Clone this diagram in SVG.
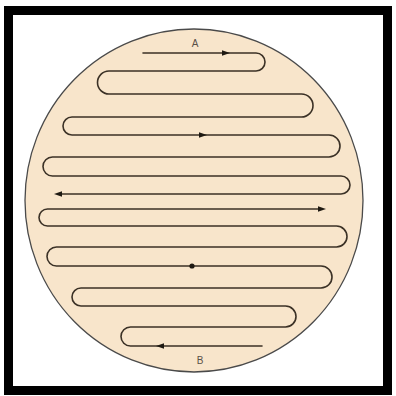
<svg xmlns="http://www.w3.org/2000/svg" width="396" height="396" viewBox="0 0 396 396">
  <style>
    .frame { fill: #ffffff; stroke: #000000; stroke-width: 9; }
    .disc { fill: #f8e5cb; stroke: #4a4a4a; stroke-width: 1.3; }
    .route { fill: none; stroke: #3b3126; stroke-width: 1.6; stroke-linejoin: round; stroke-linecap: round; }
    .head { fill: #1e1912; }
    .lbl { font-family: "Liberation Sans", Arial, sans-serif; font-size: 10px; fill: #5a5048; text-anchor: middle; }
  </style>
  <defs>
    <path id="ah" d="M4,0 L-4,-2.8 L-4,2.8 Z"/>
  </defs>
  <rect class="frame" x="8.5" y="10.5" width="379" height="380"/>
  <g id="disc">
    <ellipse class="disc" cx="194" cy="200.5" rx="169" ry="171.5"/>
  </g>
  <g id="connectors">
    <path id="route-A" class="route" d="M143,53 H256 A9,9 0 0 1 256,71 H109 A11.5,11.5 0 0 0 109,94 H301.5 A11.5,11.5 0 0 1 301.5,117 H72 A9,9 0 0 0 72,135 H329 A11,11 0 0 1 329,157 H52.5 A9.5,9.5 0 0 0 52.5,176 H341 A9,9 0 0 1 341,194 H58"/>
    <path id="route-B" class="route" d="M262,346 H130.5 A9.5,9.5 0 0 1 130.5,327 H285.5 A10.5,10.5 0 0 0 285.5,306 H81 A9,9 0 0 1 81,288 H321 A11,11 0 0 0 321,266 H56.5 A9.5,9.5 0 0 1 56.5,247 H336.5 A10.5,10.5 0 0 0 336.5,226 H47.5 A8.5,8.5 0 0 1 47.5,209 H322"/>
    <use href="#ah" class="head" transform="translate(226,53)"/>
    <use href="#ah" class="head" transform="translate(203,135)"/>
    <use href="#ah" class="head" transform="translate(58,194) rotate(180)"/>
    <use href="#ah" class="head" transform="translate(322,209)"/>
    <circle class="head" cx="192" cy="266" r="2.6"/>
    <use href="#ah" class="head" transform="translate(160,346) rotate(180)"/>
  </g>
  <g id="label-A">
    <text class="lbl" x="195" y="47">A</text>
  </g>
  <g id="label-B">
    <text class="lbl" x="200" y="364">B</text>
  </g>
</svg>
